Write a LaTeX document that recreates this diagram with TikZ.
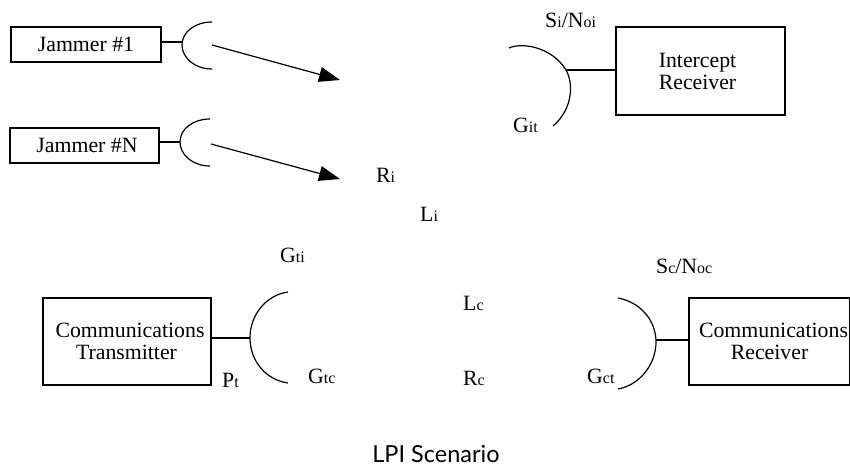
\documentclass[tikz,border=0pt]{standalone}
\usepackage{fontspec}
\setmainfont{Liberation Serif}
\newfontfamily\capfont{Lato}
\usetikzlibrary{arrows.meta}
\newcommand{\low}[1]{{\fontsize{16}{16}\selectfont #1}}
\tikzset{
  box/.style={draw=black,line width=1.3pt,inner sep=0pt,outer sep=0pt,align=center,font=\fontsize{21.8}{22}\selectfont},
  dish/.style={draw=black,line width=1.2pt},
  feed/.style={draw=black,line width=1.2pt},
  beam/.style={draw=black,line width=1.2pt,-{Triangle[length=21pt,width=15pt]}},
  lab/.style={anchor=base west,inner sep=0pt,font=\fontsize{21.8}{22}\selectfont},
}
\begin{document}
\begin{tikzpicture}[x=1pt,y=-1pt]
\useasboundingbox (0,0) rectangle (850,467);
% boxes
\node[box,minimum width=150pt,minimum height=35pt] (j1) at (86,44.5) {Jammer \#1};
\node[box,minimum width=149pt,minimum height=35pt] (jn) at (84.5,145.5) {\hspace*{5pt}Jammer \#N};
\node[box,minimum width=169pt,minimum height=88pt] (ir) at (700.5,71) {Intercept\hspace*{6pt}\\Receiver\hspace*{6pt}};
\node[box,minimum width=168pt,minimum height=87pt] (tx) at (127,341.5) {\hspace*{6pt}Communications\\Transmitter\hspace*{1pt}};
\node[box,minimum width=161pt,minimum height=87pt] (rx) at (769.5,341.5) {\hspace*{8pt}Communications\\Receiver};
% dish points
\coordinate (d1) at (182,42);
\coordinate (dn) at (180,142);
\coordinate (di) at (566,70);
\coordinate (dt) at (250,338);
\coordinate (dr) at (656,340);
\coordinate (a1s) at (212,45);
\coordinate (a1e) at (340,80);
\coordinate (ans) at (211,144);
\coordinate (ane) at (340,179);
% dishes
\draw[dish] (212,22) .. controls (195,22) and (182,32) .. (182,45) .. controls (182,58) and (195,69) .. (212,69);
\draw[dish] (210,119) .. controls (193,119) and (180,129) .. (180,142) .. controls (180,155) and (193,166) .. (210,166);
\draw[dish] (509,48) .. controls (522,42) and (552,47) .. (566,70) .. controls (573,82) and (574,108) .. (553,126);
\draw[dish] (288,292) .. controls (266,295) and (250,315) .. (250,338) .. controls (250,361) and (266,380) .. (288,383);
\draw[dish] (618,298) .. controls (640,302) and (656,320) .. (656,342) .. controls (656,364) and (640,385) .. (618,389);
% feeds
\draw[feed] (j1.east |- d1) -- (d1);
\draw[feed] (jn.east |- dn) -- (dn);
\draw[feed] (ir.west |- di) -- (di);
\draw[feed] (tx.east |- dt) -- (dt);
\draw[feed] (rx.west |- dr) -- (dr);
% beams
\draw[beam] (a1s) -- (a1e);
\draw[beam] (ans) -- (ane);
% labels
\node[lab] (ri) at (376,182) {R\low{i}};
\node[lab] (li) at (420,221) {L\low{i}};
\node[lab] (sni) at (545,27) {S\low{i}/N\low{oi}};
\node[lab] (git) at (513,132) {G\low{it}};
\node[lab] (gti) at (280,262) {G\low{ti}};
\node[lab] (pt) at (222,387) {P\low{t}};
\node[lab] (gtc) at (308,383) {G\low{tc}};
\node[lab] (lc) at (463,310) {L\low{c}};
\node[lab] (rc) at (463,385) {R\low{c}};
\node[lab] (gct) at (587,383) {G\low{ct}};
\node[lab] (snc) at (656,273) {S\low{c}/N\low{oc}};
\node[anchor=base,inner sep=0pt,font=\capfont\fontsize{23.5}{24}\selectfont] (cap) at (436,462) {LPI Scenario};
\end{tikzpicture}
\end{document}
